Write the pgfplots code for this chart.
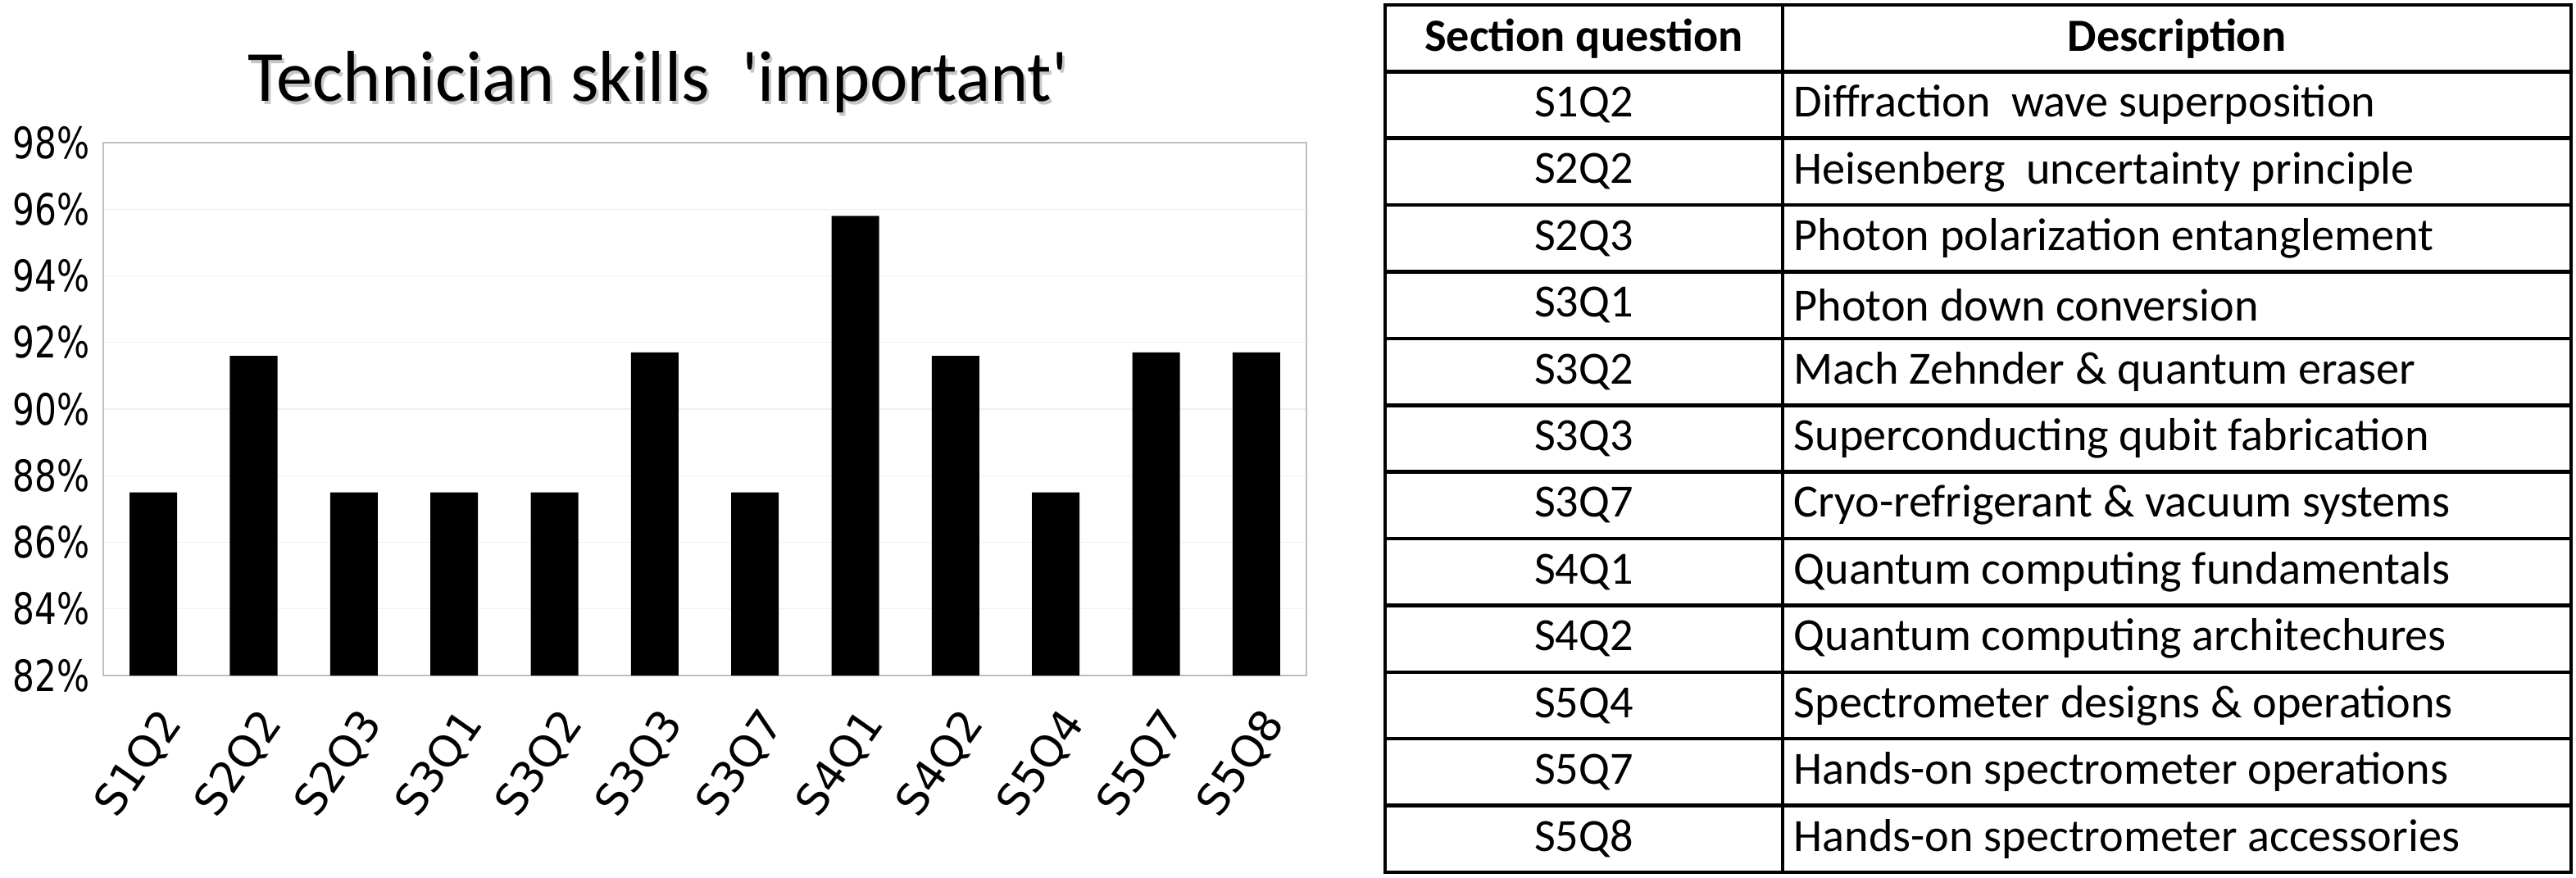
\documentclass[border=0pt]{standalone}
\usepackage{pgfplots}
\pgfplotsset{compat=1.18}
\usepackage{fontspec}
\setmainfont{Carlito}
\newfontfamily\dejavu{DejaVu Sans}

\newcommand{\rowh}{0.8138}
\newcommand{\ttop}{10.64}

\begin{document}
\begin{tikzpicture}[x=1cm,y=1cm]
\useasboundingbox (0,0) rectangle (31.43,10.70);

% title, with a faint shadow as in the original
\node[text=black!22] at (8.06,9.66) {\fontsize{25}{29}\selectfont Technician skills\ \ \textquotesingle important\textquotesingle};
\node at (8.03,9.70) {\fontsize{25}{29}\selectfont Technician skills\ \ \textquotesingle important\textquotesingle};

\begin{axis}[
    at={(1.26cm,2.46cm)}, anchor=south west, scale only axis,
    width=14.68cm, height=6.5cm,
    ymin=82, ymax=98, ytick={82,84,...,98},
    xmin=-0.5, xmax=11.5, xtick={0,...,11},
    xticklabels={S1Q2,S2Q2,S2Q3,S3Q1,S3Q2,S3Q3,S3Q7,S4Q1,S4Q2,S5Q4,S5Q7,S5Q8},
    ybar, bar width=0.58cm,
    axis line style={black!25},
    ymajorgrids, grid style={black!6},
    major tick length=0pt,
    yticklabel={\pgfmathprintnumber{\tick}\%},
    /pgf/number format/assume math mode=true,
    tick label style={font=\dejavu\fontsize{15}{17}\selectfont},
    yticklabel style={xscale=0.8, xshift=-0.08cm},
    xticklabel style={rotate=55, anchor=north east, xshift=-0.15cm, yshift=-0.12cm},
]
\addplot[fill=black, draw=none] coordinates {
    (0,87.5) (1,91.6) (2,87.5) (3,87.5) (4,87.5) (5,91.7)
    (6,87.5) (7,95.8) (8,91.6) (9,87.5) (10,91.7) (11,91.7)
};
\end{axis}

% table of section questions
\draw[line width=1.3pt] (16.90,0.06) rectangle (31.37,\ttop);
\draw[line width=1.3pt] (21.75,0.06) -- (21.75,\ttop);
\foreach \i in {1,...,12}
  \draw[line width=1.3pt] (16.90,\ttop-\i*\rowh) -- (31.37,\ttop-\i*\rowh);

\node[font=\bfseries\fontsize{16}{19}\selectfont] at (19.325,\ttop-0.5*\rowh) {Section question};
\node[font=\bfseries\fontsize{16}{19}\selectfont] at (26.56,\ttop-0.5*\rowh) {Description};

\foreach \q/\d [count=\i] in {
    S1Q2/Diffraction\ \ wave superposition,
    S2Q2/Heisenberg\ \ uncertainty principle,
    S2Q3/Photon polarization entanglement,
    S3Q1/Photon down conversion,
    S3Q2/Mach Zehnder \& quantum eraser,
    S3Q3/Superconducting qubit fabrication,
    S3Q7/Cryo-refrigerant \& vacuum systems,
    S4Q1/Quantum computing fundamentals,
    S4Q2/Quantum computing architechures,
    S5Q4/Spectrometer designs \& operations,
    S5Q7/Hands-on spectrometer operations,
    S5Q8/Hands-on spectrometer accessories}
{
  \node[font=\fontsize{16}{19}\selectfont] at (19.325,\ttop-\i*\rowh-0.5*\rowh) {\q};
  \node[font=\fontsize{16}{19}\selectfont, anchor=west, inner sep=0pt] at (21.88,\ttop-\i*\rowh-0.5*\rowh) {\d};
}
\end{tikzpicture}
\end{document}
